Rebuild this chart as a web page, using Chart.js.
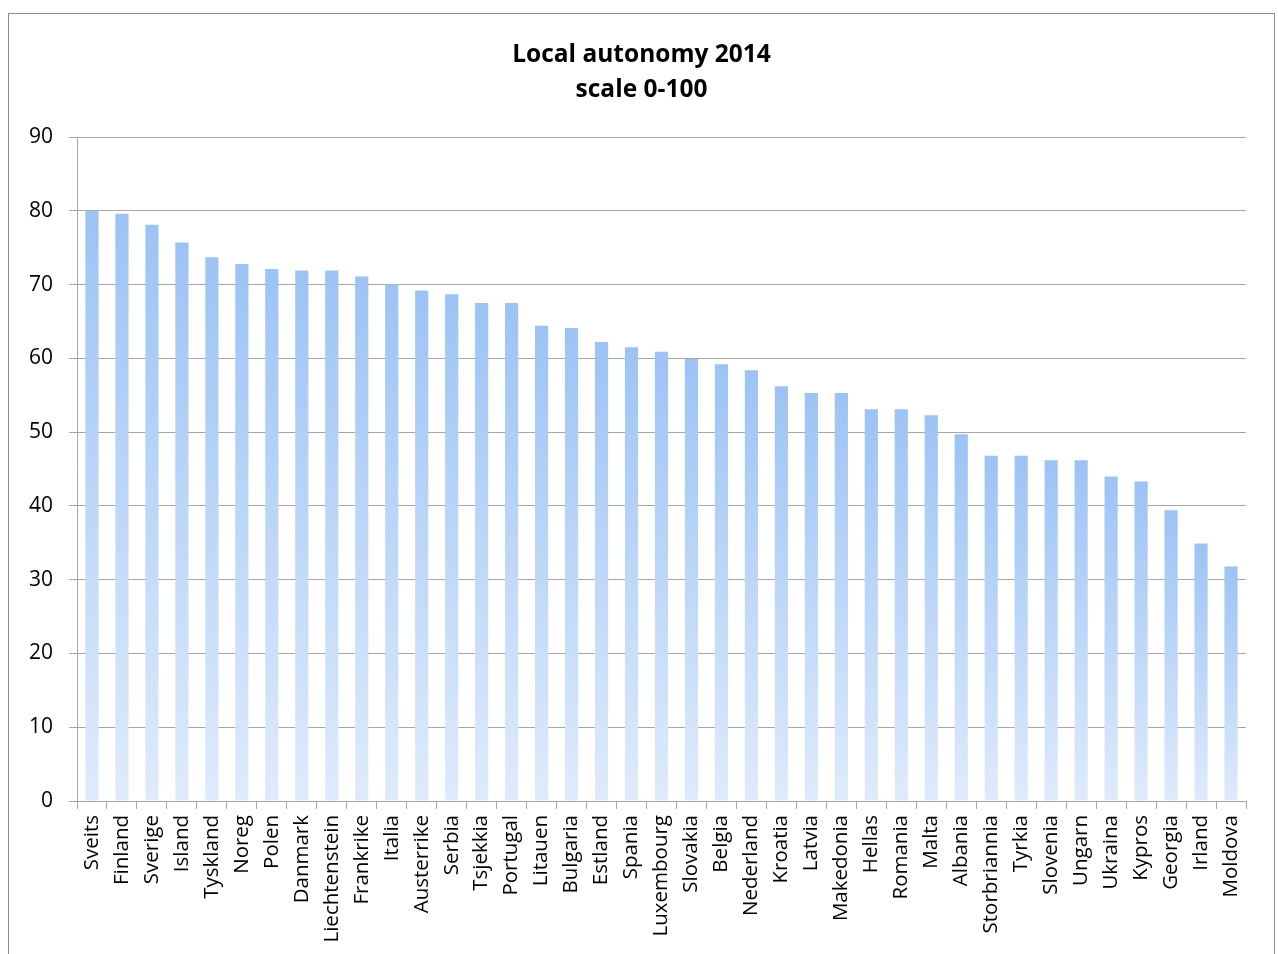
<!DOCTYPE html>
<html>
<head>
<meta charset="utf-8">
<script src="https://cdn.jsdelivr.net/npm/chart.js@4"></script>
<style>
  html, body { margin: 0; padding: 0; background: #fff; }
  #wrap { width: 1278px; height: 954px; }
</style>
</head>
<body>
<div id="wrap"><canvas id="autonomyChart" width="1278" height="954"></canvas></div>
<script>
// Land (kategoriar)
const countries = ['Sveits', 'Finland', 'Sverige', 'Island', 'Tyskland', 'Noreg', 'Polen', 'Danmark',
  'Liechtenstein', 'Frankrike', 'Italia', 'Austerrike', 'Serbia', 'Tsjekkia', 'Portugal', 'Litauen',
  'Bulgaria', 'Estland', 'Spania', 'Luxembourg', 'Slovakia', 'Belgia', 'Nederland', 'Kroatia',
  'Latvia', 'Makedonia', 'Hellas', 'Romania', 'Malta', 'Albania', 'Storbriannia', 'Tyrkia',
  'Slovenia', 'Ungarn', 'Ukraina', 'Kypros', 'Georgia', 'Irland', 'Moldova'];

// Verdiar lest av biletet
const autonomy = [80.0, 79.6, 78.1, 75.7, 73.7, 72.8, 72.1, 71.9,
  71.9, 71.1, 70.0, 69.2, 68.7, 67.5, 67.5, 64.4,
  64.1, 62.2, 61.5, 60.9, 59.9, 59.2, 58.4, 56.2,
  55.3, 55.3, 53.1, 53.1, 52.3, 49.7, 46.8, 46.8,
  46.2, 46.2, 44.0, 43.3, 39.4, 34.9, 31.8];

// Akse-verdiar
const yTicks = [0, 10, 20, 30, 40, 50, 60, 70, 80, 90];

const gridGray = '#a6a6a6';

// Gradient per søyle: mettare blå øvst, lys nedst
function barGradient(context) {
  const chart = context.chart;
  const yScale = chart.scales.y;
  if (!chart.chartArea || !yScale) return '#9dc3f5';
  const top = yScale.getPixelForValue(context.raw);
  const bottom = yScale.getPixelForValue(0);
  if (!isFinite(top) || !isFinite(bottom) || top === bottom) return '#9dc3f5';
  const g = chart.ctx.createLinearGradient(0, top, 0, bottom);
  g.addColorStop(0, '#9cc3f5');
  g.addColorStop(1, '#dfebfb');
  return g;
}

// Kvit bakgrunn og ramme rundt heile diagrammet
const frame = {
  id: 'frame',
  beforeDraw(chart) {
    const c = chart.ctx;
    c.save();
    c.fillStyle = '#fff';
    c.fillRect(0, 0, chart.width, chart.height);
    c.strokeStyle = '#8c8c8c';
    c.lineWidth = 1;
    c.strokeRect(8.5, 13.5, 1266, 960);
    c.restore();
  }
};

const ctx = document.getElementById('autonomyChart');
new Chart(ctx, {
  type: 'bar',
  data: {
    labels: countries,
    datasets: [{
      label: 'Local autonomy 2014',
      data: autonomy,
      backgroundColor: barGradient,
      borderWidth: 0,
      barPercentage: 0.44,
      categoryPercentage: 1.0
    }]
  },
  options: {
    responsive: false,
    animation: false,
    devicePixelRatio: 1,
    layout: { padding: { left: 5, right: 0, top: 0, bottom: 0 } },
    plugins: {
      legend: { display: false },
      tooltip: { enabled: false },
      title: {
        display: true,
        text: ['Local autonomy 2014', 'scale 0-100'],
        color: '#000',
        font: { family: '"Open Sans", sans-serif', size: 24.5, weight: 'bold', lineHeight: 35 / 24.5 },
        padding: { top: 38, bottom: 29 }
      }
    },
    scales: {
      y: {
        min: 0,
        max: 90,
        afterBuildTicks(scale) {
          scale.ticks = yTicks.map(v => ({ value: v }));
        },
        afterFit(scale) { scale.width = 72; },
        grid: { color: gridGray, lineWidth: 1, tickLength: 8, drawTicks: true },
        border: { color: gridGray, width: 1 },
        ticks: {
          color: '#000',
          padding: 16,
          font: { family: '"Open Sans", sans-serif', size: 21 }
        }
      },
      // tom akse til høgre, held plass mellom plottet og ramma
      yRight: {
        position: 'right',
        afterFit(scale) { scale.width = 32; },
        grid: { drawOnChartArea: false, drawTicks: false },
        border: { display: false },
        ticks: { display: false }
      },
      x: {
        afterFit(scale) { scale.height = 153; },
        grid: { drawOnChartArea: false, drawTicks: true, tickLength: 8, color: gridGray, offset: true },
        border: { color: gridGray, width: 1 },
        ticks: {
          color: '#000',
          autoSkip: false,
          minRotation: 90,
          maxRotation: 90,
          padding: 6,
          font: { family: '"Open Sans", sans-serif', size: 20.5 }
        }
      }
    }
  },
  plugins: [frame]
});
</script>
</body>
</html>
